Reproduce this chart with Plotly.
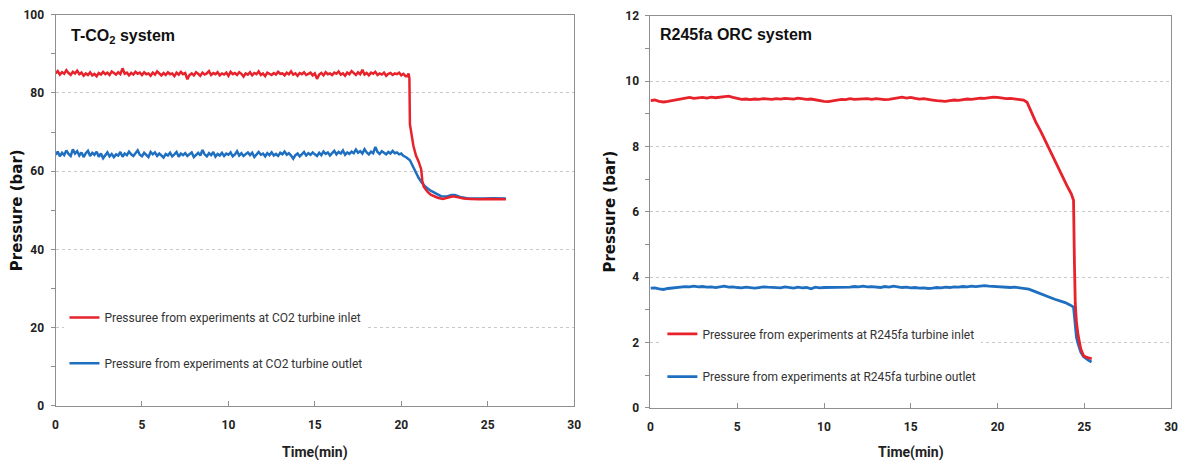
import plotly.graph_objects as go

# ---------------- T-CO2 system (left panel) ----------------
# steady part logged every 0.125 min, then the shutdown transient
CO2_STEP = 0.125
co2_in_steady = [
    85.0, 85.6, 84.7, 85.3, 84.9, 85.8, 85.1, 84.6, 85.4, 85.0,
    85.7, 84.8, 85.2, 84.4, 85.0, 84.6, 85.3, 84.5, 84.9, 84.3,
    85.1, 84.7, 85.4, 84.8, 85.2, 84.6, 85.5, 85.0, 84.7, 85.3,
    84.8, 86.3, 84.9, 85.2, 84.5, 85.1, 84.7, 85.4, 84.9, 85.2,
    84.6, 85.3, 84.8, 85.0, 84.4, 85.2, 84.7, 85.5, 84.9, 84.5,
    85.1, 84.6, 85.3, 84.8, 85.0, 84.3, 85.2, 84.7, 85.4, 84.8,
    85.1, 83.5, 84.6, 85.0, 84.5, 85.3, 84.9, 84.4, 85.2, 84.7,
    85.0, 85.6, 84.6, 85.1, 84.8, 85.3, 84.5, 85.0, 84.7, 85.2,
    84.4, 85.4, 84.8, 85.1, 84.6, 85.3, 84.9, 84.2, 85.0, 84.7,
    85.3, 84.5, 85.1, 84.8, 85.5, 84.6, 85.0, 84.3, 85.2, 84.8,
    84.6, 85.1, 84.7, 85.4, 84.9, 85.0, 84.5, 85.2, 84.8, 85.5,
    84.7, 85.0, 84.4, 85.1, 84.8, 85.3, 84.6, 84.9, 85.2, 84.5,
    85.0, 83.6, 84.7, 85.1, 84.5, 85.3, 84.8, 85.0, 84.6, 85.2,
    84.9, 85.5, 84.7, 85.0, 84.4, 85.2, 84.8, 85.6, 85.0, 84.6,
    85.3, 84.8, 85.9, 84.7, 85.1, 84.5, 85.2, 84.9, 85.4, 84.6,
    85.0, 84.7, 85.2, 84.4, 84.9, 85.1, 84.6, 85.0, 84.8, 85.2,
    84.5, 84.9, 84.3,
]
co2_in_trans_t = [20.35, 20.42, 20.47, 20.5, 20.6, 20.7, 20.85, 21.0, 21.15, 21.22,
                  21.3, 21.5, 21.7, 21.9, 22.1, 22.4, 22.7, 23.0, 23.3, 23.6,
                  24.0, 24.5, 25.0, 25.5, 26.05]
co2_in_trans_p = [84.3, 85.0, 83.8, 72.0, 69.0, 66.5, 64.0, 62.5, 60.5, 57.5,
                  56.0, 54.8, 54.0, 53.5, 53.2, 52.9, 53.2, 53.6, 53.3, 53.0,
                  52.9, 52.8, 52.9, 52.8, 52.8]

co2_out_steady = [
    64.2, 65.0, 63.8, 64.7, 64.1, 65.3, 64.4, 63.9, 65.6, 64.5,
    65.1, 64.0, 64.8, 63.6, 64.6, 65.2, 63.9, 64.7, 64.2, 65.0,
    63.7, 64.5, 63.3, 64.2, 64.8, 63.8, 64.4, 63.6, 64.3, 64.0,
    64.9, 63.7, 64.5, 64.1, 65.0, 64.3, 63.9, 64.6, 65.3, 64.2,
    63.8, 64.7, 64.1, 63.6, 64.9, 64.3, 64.8, 63.9, 64.5, 64.0,
    63.5, 64.4, 64.0, 64.7, 63.8, 64.3, 64.9, 63.7, 64.5, 64.1,
    64.6, 63.9, 64.4, 64.8, 63.6, 64.2, 64.7, 64.0, 65.4, 64.3,
    63.8, 64.6, 64.1, 64.9, 63.7, 64.4, 64.0, 64.7, 63.9, 64.5,
    64.2, 64.8, 63.8, 64.3, 65.1, 64.0, 64.6, 63.9, 64.4, 64.8,
    64.1, 64.7, 63.6, 64.3, 64.9, 64.2, 64.5, 63.8, 64.6, 64.1,
    64.8, 64.0, 64.4, 63.9, 64.7, 64.3, 65.0, 64.2, 64.6, 64.0,
    63.2, 64.1, 64.5, 63.8, 64.4, 64.9, 64.0, 64.6, 64.2, 64.8,
    64.3, 63.9, 64.7, 64.1, 65.0, 64.4, 64.8, 64.0, 64.6, 65.2,
    64.3, 64.9, 64.5, 65.3, 64.2, 64.8, 64.4, 65.0, 64.6, 65.5,
    64.7, 65.1, 64.5, 65.6, 64.8, 64.3, 65.0, 64.6, 66.2, 64.9,
    64.4, 65.1, 64.7, 64.3, 64.9, 64.5, 65.2, 64.6, 64.8, 64.3,
    64.5,
]
co2_out_trans_t = [20.1, 20.3, 20.5, 20.7, 20.85, 21.0, 21.2, 21.4, 21.7, 22.0,
                   22.3, 22.6, 22.9, 23.1, 23.4, 23.8, 24.3, 24.8, 25.3, 26.05]
co2_out_trans_p = [64.0, 63.5, 62.8, 61.0, 59.5, 58.3, 57.0, 56.0, 55.0, 54.2,
                   53.6, 53.5, 53.9, 53.9, 53.4, 53.1, 53.0, 53.0, 53.1, 53.0]

# ---------------- R245fa ORC system (right panel) ----------------
ORC_STEP = 0.25
orc_in_steady = [
    9.40,
    9.42, 9.38, 9.36, 9.38, 9.40, 9.43, 9.46, 9.48, 9.50, 9.47, 9.49, 9.50,
    9.48, 9.51, 9.49, 9.50, 9.52, 9.54, 9.50, 9.46, 9.44, 9.45, 9.43, 9.45,
    9.44, 9.46, 9.45, 9.44, 9.46, 9.45, 9.47, 9.46, 9.45, 9.48, 9.46, 9.44,
    9.45, 9.42, 9.40, 9.38, 9.37, 9.39, 9.42, 9.44, 9.43, 9.46, 9.44, 9.45,
    9.47, 9.46, 9.44, 9.46, 9.45, 9.43, 9.44, 9.47, 9.49, 9.51, 9.48, 9.50,
    9.47, 9.45, 9.46, 9.43, 9.42, 9.40, 9.39, 9.38, 9.40, 9.42, 9.41, 9.43,
    9.45, 9.44, 9.46, 9.48, 9.47, 9.49, 9.51, 9.50, 9.48, 9.46, 9.47, 9.45,
    9.44, 9.42,
]
orc_in_trans_t = [21.7, 21.9, 22.2, 22.5, 22.9, 23.3, 23.7, 24.0, 24.25, 24.38,
                  24.43, 24.48, 24.55, 24.65, 24.8, 24.95, 25.1, 25.25, 25.43]
orc_in_trans_p = [9.35, 9.1, 8.75, 8.45, 8.0, 7.55, 7.1, 6.8, 6.55, 6.35,
                  4.5, 3.2, 2.6, 2.2, 1.8, 1.6, 1.55, 1.52, 1.5]

orc_out_steady = [
    3.66,
    3.67, 3.64, 3.62, 3.65, 3.67, 3.69, 3.70, 3.71, 3.70, 3.72, 3.70, 3.71,
    3.69, 3.70, 3.68, 3.70, 3.72, 3.69, 3.70, 3.68, 3.67, 3.69, 3.68, 3.66,
    3.68, 3.70, 3.69, 3.68, 3.69, 3.67, 3.70, 3.68, 3.66, 3.69, 3.67, 3.68,
    3.64, 3.69, 3.67, 3.68, 3.68, 3.70, 3.69, 3.68, 3.70, 3.69, 3.71, 3.70,
    3.72, 3.70, 3.71, 3.69, 3.68, 3.71, 3.69, 3.72, 3.70, 3.68, 3.69, 3.67,
    3.68, 3.66, 3.67, 3.65, 3.66, 3.68, 3.67, 3.69, 3.68, 3.70, 3.69, 3.71,
    3.70, 3.72, 3.71, 3.73, 3.74, 3.72, 3.71, 3.70, 3.69, 3.70, 3.68, 3.69,
    3.67, 3.66,
]
orc_out_trans_t = [21.8, 22.1, 22.4, 22.7, 23.0, 23.3, 23.6, 23.9, 24.2, 24.38,
                   24.45, 24.55, 24.65, 24.8, 24.95, 25.1, 25.25, 25.42]
orc_out_trans_p = [3.63, 3.57, 3.50, 3.44, 3.38, 3.32, 3.28, 3.22, 3.14, 3.08,
                   2.7, 2.15, 1.95, 1.7, 1.57, 1.5, 1.45, 1.4]

LEG_CO2 = ["Pressuree from experiments at CO2 turbine inlet",
           "Pressure from experiments at CO2 turbine outlet"]
LEG_ORC = ["Pressuree from experiments at R245fa turbine inlet",
           "Pressure from experiments at R245fa turbine outlet"]

RED = "#E8222B"
BLUE = "#1F6FC0"

SANS = "Roboto, Liberation Sans, sans-serif"
ARIAL = "Liberation Sans, Arial, sans-serif"
WIDE = "DejaVu Sans, Verdana, sans-serif"


def series(step, steady, trans_t, trans_p):
    t = [i * step for i in range(len(steady))] + list(trans_t)
    return t, list(steady) + list(trans_p)


W, H = 1184, 471
# plot-area edges in pixels (left, right) and (top, bottom)
L_X = (53, 576)
L_Y = (8, 411)
R_X = (653, 1178)
R_Y = (9, 413)


def px_x(p):
    return p / W


def px_y(p):
    return 1 - p / H


fig = go.Figure()

t, p = series(CO2_STEP, co2_out_steady, co2_out_trans_t, co2_out_trans_p)
fig.add_trace(go.Scatter(x=t, y=p, mode="lines", name=LEG_CO2[1],
                         line=dict(color=BLUE, width=2.5),
                         xaxis="x", yaxis="y", legend="legend",
                         legendgroup="co2_out", legendrank=2))
t, p = series(CO2_STEP, co2_in_steady, co2_in_trans_t, co2_in_trans_p)
fig.add_trace(go.Scatter(x=t, y=p, mode="lines", name=LEG_CO2[0],
                         line=dict(color=RED, width=2.5),
                         xaxis="x", yaxis="y", legend="legend",
                         legendgroup="co2_in", legendrank=1))

t, p = series(ORC_STEP, orc_out_steady, orc_out_trans_t, orc_out_trans_p)
fig.add_trace(go.Scatter(x=t, y=p, mode="lines", name=LEG_ORC[1],
                         line=dict(color=BLUE, width=2.8),
                         xaxis="x2", yaxis="y2", legend="legend2",
                         legendgroup="orc_out", legendrank=2))
t, p = series(ORC_STEP, orc_in_steady, orc_in_trans_t, orc_in_trans_p)
fig.add_trace(go.Scatter(x=t, y=p, mode="lines", name=LEG_ORC[0],
                         line=dict(color=RED, width=2.8),
                         xaxis="x2", yaxis="y2", legend="legend2",
                         legendgroup="orc_in", legendrank=1))

tick_font = dict(family=SANS, size=12, color="#222", weight="bold")
line_col = "#8f8f8f"


def xaxis(dom, anchor):
    return dict(domain=[px_x(dom[0]), px_x(dom[1])], anchor=anchor,
                range=[0, 30], tickvals=[0, 5, 10, 15, 20, 25, 30],
                ticks="inside", ticklen=5, tickcolor=line_col,
                ticklabelstandoff=8,
                showline=True, linecolor=line_col, linewidth=1, mirror=True,
                showgrid=False, zeroline=False, tickfont=tick_font)


def yaxis(dom, anchor, top, step):
    return dict(domain=[px_y(dom[1]), px_y(dom[0])], anchor=anchor,
                range=[0, top], dtick=step,
                ticks="outside", ticklen=4, tickcolor=line_col,
                ticklabelstandoff=4,
                minor=dict(dtick=step / 2, ticks="outside", ticklen=4,
                           tickcolor=line_col, showgrid=False),
                showline=True, linecolor=line_col, linewidth=1, mirror=True,
                showgrid=True, gridcolor="#c8c8c8", griddash="dot", gridwidth=1,
                zeroline=False, tickfont=tick_font)


leg_font = dict(family=SANS, size=12, color="#333")

fig.update_layout(
    width=W, height=H,
    margin=dict(l=0, r=0, t=0, b=0),
    paper_bgcolor="white", plot_bgcolor="white",
    xaxis=xaxis(L_X, "y"),
    yaxis=yaxis(L_Y, "x", 100, 20),
    xaxis2=xaxis(R_X, "y2"),
    yaxis2=yaxis(R_Y, "x2", 12, 2),
    legend=dict(x=px_x(62), y=px_y(305), xanchor="left", yanchor="top",
                bgcolor="white", borderwidth=0, font=leg_font,
                tracegroupgap=26.7, itemwidth=30),
    legend2=dict(x=px_x(665), y=px_y(322), xanchor="left", yanchor="top",
                 bgcolor="white", borderwidth=0, font=leg_font,
                 tracegroupgap=23.6, itemwidth=30),
    showlegend=True,
)

annos = [
    dict(text="T-CO<sub>2</sub> system", x=px_x(67), y=px_y(30.5),
         xanchor="left", yanchor="middle",
         font=dict(family=ARIAL, size=16, color="#111", weight="bold")),
    dict(text="R245fa ORC system", x=px_x(661), y=px_y(28.5),
         xanchor="left", yanchor="middle",
         font=dict(family=ARIAL, size=16, color="#111", weight="bold")),
    dict(text="Time(min)", x=px_x((L_X[0] + L_X[1]) / 2), y=px_y(459),
         xanchor="center", yanchor="middle",
         font=dict(family=SANS, size=14, color="#222", weight="bold")),
    dict(text="Time(min)", x=px_x((R_X[0] + R_X[1]) / 2), y=px_y(459),
         xanchor="center", yanchor="middle",
         font=dict(family=SANS, size=14, color="#222", weight="bold")),
    dict(text="Pressure (bar)", x=px_x(14), y=px_y((L_Y[0] + L_Y[1]) / 2),
         xanchor="center", yanchor="middle", textangle=-90,
         font=dict(family=WIDE, size=15, color="#111", weight="bold")),
    dict(text="Pressure (bar)", x=px_x(612), y=px_y((R_Y[0] + R_Y[1]) / 2),
         xanchor="center", yanchor="middle", textangle=-90,
         font=dict(family=WIDE, size=15, color="#111", weight="bold")),
]
for a in annos:
    fig.add_annotation(xref="paper", yref="paper", showarrow=False, **a)

fig.write_html("out.html")
